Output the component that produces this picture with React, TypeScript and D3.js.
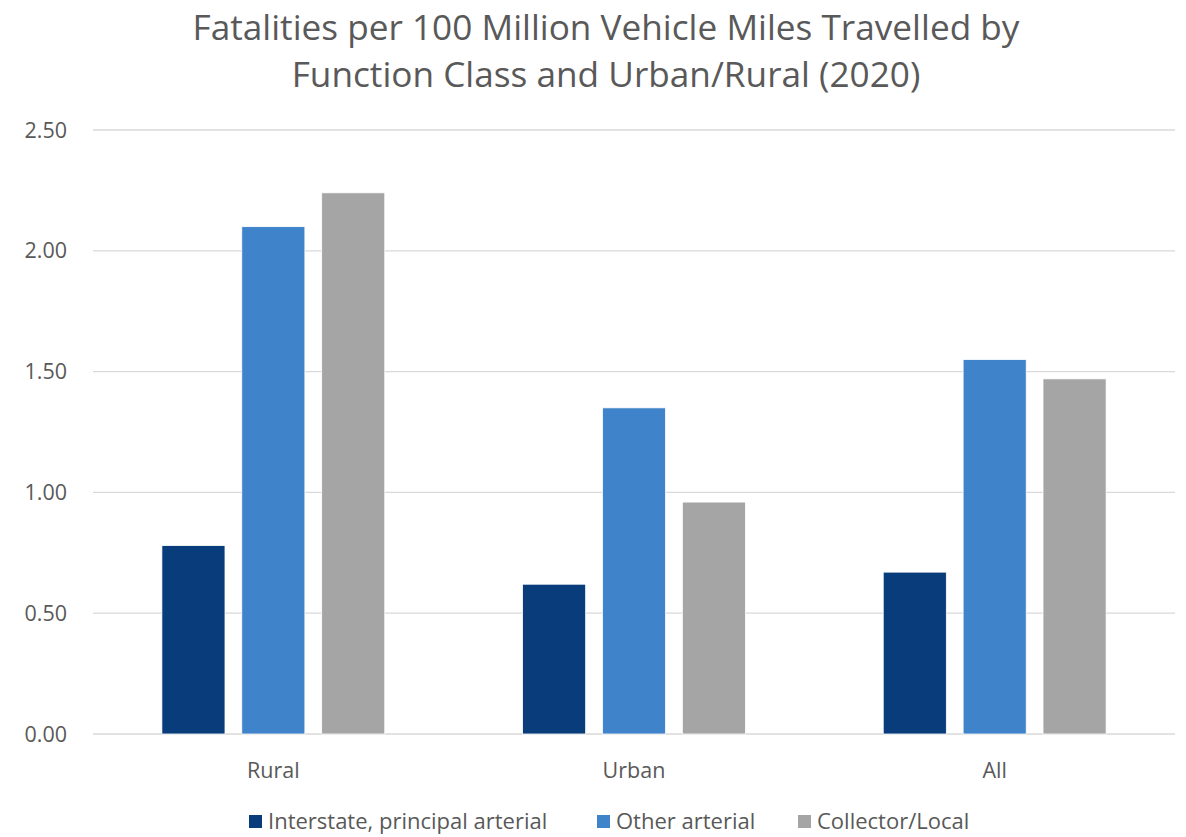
import React from "react";
import * as d3 from "d3";

const categories = ["Rural", "Urban", "All"];
const seriesNames = ["Interstate, principal arterial", "Other arterial", "Collector/Local"];
const interstate = [0.78, 0.62, 0.67];
const otherArterial = [2.1, 1.35, 1.55];
const collectorLocal = [2.24, 0.96, 1.47];
const yTicks = [0, 0.5, 1.0, 1.5, 2.0, 2.5];
const colors = ["#083c7b", "#3f83cb", "#a5a5a5"];

const W = 1186, H = 837;
const left = 93, right = 1175, top = 130, bottom = 734;
const font = "'Segoe UI', 'Open Sans', 'Noto Sans', sans-serif";
const textColor = "#595959";

export default function App() {
  const series = [interstate, otherArterial, collectorLocal];
  const y = d3.scaleLinear().domain([0, 2.5]).range([bottom, top]);
  const x0 = d3.scaleBand().domain(categories).range([left, right]).paddingInner(0.382).paddingOuter(0.191);
  const x1 = d3.scaleBand().domain(seriesNames).range([0, x0.bandwidth()]).paddingInner(0.21);
  const legendX = [249, 597, 798];
  return (
    <svg width={W} height={H} style={{ position: "absolute", left: 0, top: 0, background: "#fff" }}>
      <text x={606} y={40} textAnchor="middle" fontFamily={font} fontSize={35.2} fill={textColor}>
        Fatalities per 100 Million Vehicle Miles Travelled by
      </text>
      <text x={606} y={87} textAnchor="middle" fontFamily={font} fontSize={35.2} fill={textColor}>
        Function Class and Urban/Rural (2020)
      </text>
      {yTicks.map((t) => (
        <g key={t}>
          <line x1={left} x2={right} y1={y(t)} y2={y(t)} stroke="#d9d9d9" strokeWidth={1.3} />
          <text x={67} y={y(t)} dy="0.35em" textAnchor="end" fontFamily={font} fontSize={21.5} fill={textColor}>
            {t.toFixed(2)}
          </text>
        </g>
      ))}
      {categories.map((c, ci) => (
        <g key={c} transform={`translate(${x0(c)},0)`}>
          {seriesNames.map((s, si) => (
            <rect
              key={s}
              x={x1(s)}
              y={y(series[si][ci])}
              width={x1.bandwidth()}
              height={bottom - y(series[si][ci])}
              fill={colors[si]}
              stroke="#fff"
              strokeWidth={0.8}
            />
          ))}
          <text x={x0.bandwidth() / 2} y={770} dy="0.35em" textAnchor="middle" fontFamily={font} fontSize={21.5} fill={textColor}>
            {c}
          </text>
        </g>
      ))}
      {seriesNames.map((s, i) => (
        <g key={s}>
          <rect x={legendX[i]} y={815} width={13} height={13} fill={colors[i]} />
          <text x={legendX[i] + 19} y={821.5} dy="0.35em" fontFamily={font} fontSize={22} fill={textColor}>
            {s}
          </text>
        </g>
      ))}
    </svg>
  );
}
